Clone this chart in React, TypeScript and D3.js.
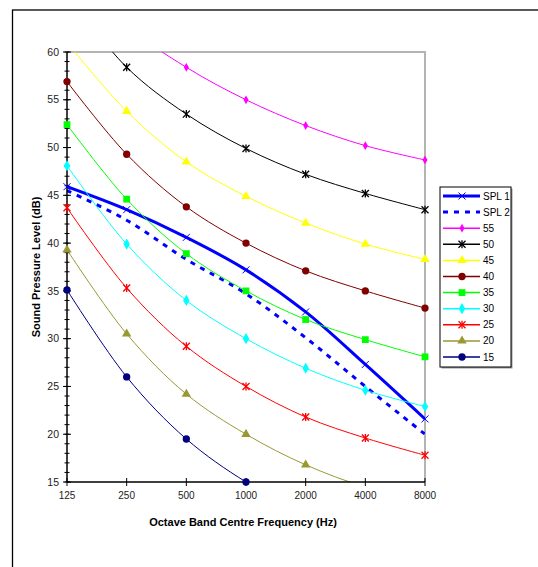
import React from 'react'
import * as d3 from 'd3'

const frequencies = ['125', '250', '500', '1000', '2000', '4000', '8000']

const spl1 = [45.9, 43.5, 40.6, 37.2, 32.8, 27.3, 21.6]
const spl2 = [45.5, 42.4, 38.3, 34.7, 30.1, 25.0, 20.0]
const nr55 = [70.0, 62.8, 58.4, 55.0, 52.3, 50.2, 48.7]
const nr50 = [66.0, 58.4, 53.5, 49.9, 47.2, 45.2, 43.5]
const nr45 = [61.0, 53.8, 48.5, 44.9, 42.1, 39.9, 38.3]
const nr40 = [56.9, 49.3, 43.8, 40.0, 37.1, 35.0, 33.2]
const nr35 = [52.4, 44.6, 38.9, 35.0, 32.0, 29.9, 28.1]
const nr30 = [48.1, 39.9, 34.0, 30.0, 26.9, 24.6, 22.9]
const nr25 = [43.7, 35.3, 29.2, 25.0, 21.8, 19.6, 17.8]
const nr20 = [39.3, 30.5, 24.2, 20.0, 16.8, 14.5, 13.3]
const nr15 = [35.1, 26.0, 19.5, 15.0, 11.7, 9.3, 7.9]

const yTicks = [15, 20, 25, 30, 35, 40, 45, 50, 55, 60]

const series = [
  { name: 'SPL 1', values: spl1, color: '#0000ff', marker: 'cross', width: 3, dash: null },
  { name: 'SPL 2', values: spl2, color: '#0000ff', marker: null, width: 3, dash: '5,6' },
  { name: '55', values: nr55, color: '#ff00ff', marker: 'diamondSmall', width: 1, dash: null },
  { name: '50', values: nr50, color: '#000000', marker: 'star', width: 1, dash: null },
  { name: '45', values: nr45, color: '#ffff00', marker: 'triangle', width: 1, dash: null },
  { name: '40', values: nr40, color: '#800000', marker: 'circle', width: 1, dash: null },
  { name: '35', values: nr35, color: '#00ff00', marker: 'square', width: 1, dash: null },
  { name: '30', values: nr30, color: '#00ffff', marker: 'diamond', width: 1, dash: null },
  { name: '25', values: nr25, color: '#ff0000', marker: 'star', width: 1, dash: null },
  { name: '20', values: nr20, color: '#999933', marker: 'triangle', width: 1, dash: null },
  { name: '15', values: nr15, color: '#000080', marker: 'circle', width: 1, dash: null },
]

const FONT = "Arial, 'Liberation Sans', sans-serif"

function Marker({ type, x, y, color }: { type: string | null; x: number; y: number; color: string }) {
  if (!type) return null
  const t = `translate(${x},${y})`
  if (type === 'circle') return <path transform={t} d={d3.symbol(d3.symbolCircle, 42)()!} fill={color} />
  if (type === 'square') return <path transform={t} d={d3.symbol(d3.symbolSquare, 46)()!} fill={color} />
  if (type === 'triangle') return <path transform={t} d={d3.symbol(d3.symbolTriangle, 38)()!} fill={color} />
  if (type === 'diamond') return <path transform={t} d={d3.symbol(d3.symbolDiamond, 36)()!} fill={color} />
  if (type === 'diamondSmall') return <path transform={t} d={d3.symbol(d3.symbolDiamond, 22)()!} fill={color} />
  const s = 3.5
  if (type === 'cross') {
    return (
      <g transform={t} stroke={color} strokeWidth={1}>
        <line x1={-s} y1={-s} x2={s} y2={s} />
        <line x1={-s} y1={s} x2={s} y2={-s} />
      </g>
    )
  }
  // asterisk
  return (
    <g transform={t} stroke={color} strokeWidth={1.3}>
      <line x1={-s} y1={-s} x2={s} y2={s} />
      <line x1={-s} y1={s} x2={s} y2={-s} />
      <line x1={0} y1={-s - 0.5} x2={0} y2={s + 0.5} />
    </g>
  )
}

export default function App() {
  const width = 538
  const height = 567
  const left = 67, right = 425, top = 52, bottom = 482

  const x = d3.scalePoint<string>().domain(frequencies).range([left, right]).padding(0)
  const y = d3.scaleLinear().domain([15, 60]).range([bottom, top])

  // Excel-style smoothed lines
  const line = d3.line<number>()
    .x((_, i) => x(frequencies[i])!)
    .y(d => y(d))
    .curve(d3.curveCatmullRom.alpha(0.5))

  const minorTicks = d3.range(15, 61, 1)

  // legend layout
  const lgX = 440, lgY = 187, lgW = 71, lgH = 180
  const rowH = 16.1

  return (
    <div style={{ position: 'fixed', left: 0, top: 0 }}>
      <svg width={width} height={height} style={{ display: 'block', background: '#fff' }} fontFamily={FONT}>
        <defs>
          <clipPath id="plot-clip">
            <rect x={left} y={top} width={right - left} height={bottom - top} />
          </clipPath>
        </defs>

        {/* chart area border (extends past the page) */}
        <rect x={12.5} y={10} width={700} height={700} fill="#fff" stroke="#000" strokeWidth={1.3} />

        {/* plot area frame */}
        <path d={`M${left},${top}H${right}V${bottom}`} fill="none" stroke="#b4b4b4" strokeWidth={2} />

        {/* series lines */}
        <g clipPath="url(#plot-clip)">
          {series.map(s => (
            <path
              key={s.name}
              d={line(s.values)!}
              fill="none"
              stroke={s.color}
              strokeWidth={s.width}
              strokeDasharray={s.dash ?? undefined}
            />
          ))}
        </g>

        {/* axes */}
        <g stroke="#000">
          <line x1={left} y1={top} x2={left} y2={bottom} strokeWidth={1.5} />
          <line x1={left} y1={bottom} x2={right} y2={bottom} strokeWidth={1.5} />
          {minorTicks.map(v => (
            <line key={'m' + v} x1={left - 2.5} x2={left + 2.5} y1={y(v)} y2={y(v)} strokeWidth={1} />
          ))}
          {yTicks.map(v => (
            <line key={'M' + v} x1={left - 4} x2={left + 4} y1={y(v)} y2={y(v)} strokeWidth={1} />
          ))}
          {frequencies.map(f => (
            <line key={'x' + f} x1={x(f)} x2={x(f)} y1={bottom - 4} y2={bottom + 4} strokeWidth={1} />
          ))}
        </g>

        {/* markers */}
        {series.map(s =>
          s.values.map((v, i) =>
            v >= 14.8 && v <= 60.2 ? (
              <Marker key={s.name + i} type={s.marker} x={x(frequencies[i])!} y={y(v)} color={s.color} />
            ) : null
          )
        )}

        {/* tick labels */}
        <g fill="#222">
          {yTicks.map(v => (
            <text key={'yl' + v} x={left - 8} y={y(v)} dy="0.35em" textAnchor="end" fontSize={10.5}>{v}</text>
          ))}
          {frequencies.map(f => (
            <text key={'xl' + f} x={x(f)} y={bottom + 17} textAnchor="middle" fontSize={10}>{f}</text>
          ))}
        </g>

        {/* axis titles */}
        <text x={(left + right) / 2 - 3} y={526} textAnchor="middle" fontSize={11} fontWeight="bold">
          Octave Band Centre Frequency (Hz)
        </text>
        <text
          transform={`translate(40,${(top + bottom) / 2}) rotate(-90)`}
          textAnchor="middle"
          fontSize={11}
          fontWeight="bold"
        >
          Sound Pressure Level (dB)
        </text>

        {/* legend */}
        <rect x={lgX + 1.5} y={lgY + 1.5} width={lgW} height={lgH} fill="#999" />
        <rect x={lgX} y={lgY} width={lgW} height={lgH} fill="#fff" stroke="#000" strokeWidth={1} />
        {series.map((s, i) => {
          const cy = lgY + 9 + i * rowH
          return (
            <g key={'lg' + s.name}>
              <line
                x1={lgX + 3}
                x2={lgX + 40}
                y1={cy}
                y2={cy}
                stroke={s.color}
                strokeWidth={s.width === 3 ? 3 : 1.5}
                strokeDasharray={s.dash ?? undefined}
              />
              <Marker type={s.marker} x={lgX + 22} y={cy} color={s.color} />
              <text x={lgX + 43} y={cy} dy="0.35em" fontSize={10} fill="#000">{s.name}</text>
            </g>
          )
        })}
      </svg>
    </div>
  )
}
